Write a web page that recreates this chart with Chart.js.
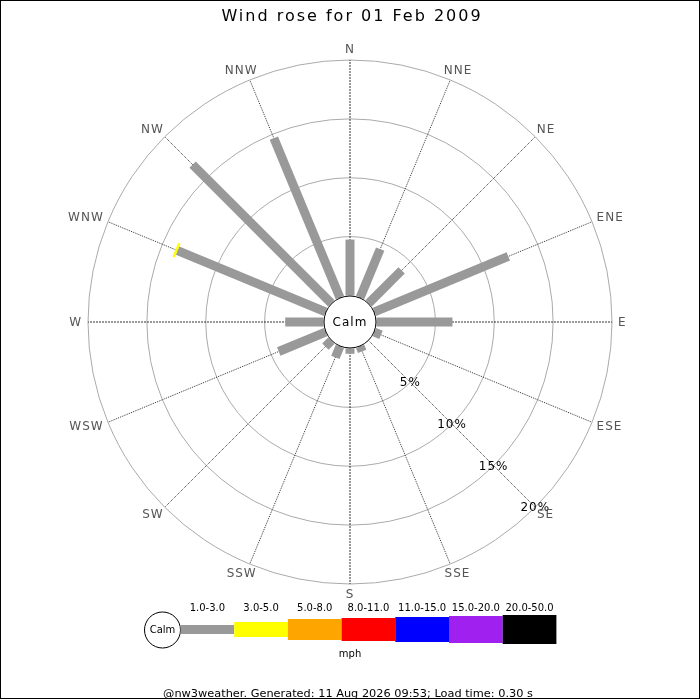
<!DOCTYPE html>
<html>
<head>
<meta charset="utf-8">
<script src="https://cdn.jsdelivr.net/npm/chart.js@4/dist/chart.umd.min.js"></script>
<style>
  body { margin: 0; background: #fff; }
  #wrap { width: 700px; height: 700px; }
</style>
</head>
<body>
<div id="wrap"><canvas id="roseChart"></canvas></div>
<script>
// wind directions, clockwise from north
const directions = ['N', 'NNE', 'NE', 'ENE', 'E', 'ESE', 'SE', 'SSE', 'S', 'SSW', 'SW', 'WSW', 'W', 'WNW', 'NW', 'NNW'];

// percent of the day in each speed band (mph), per direction
const speed1to3 = [4.75, 4.45, 3.95, 12.3, 6.45, 0.6, 0, 0.45, 0.45, 1.0, 0.7, 4.3, 3.25, 13.6, 16.65, 14.65];
const speed3to5 = [0, 0, 0, 0, 0, 0, 0, 0, 0, 0, 0, 0, 0, 0.2, 0, 0];
const speed5to8 = [0, 0, 0, 0, 0, 0, 0, 0, 0, 0, 0, 0, 0, 0, 0, 0];
const speed8to11 = [0, 0, 0, 0, 0, 0, 0, 0, 0, 0, 0, 0, 0, 0, 0, 0];
const speed11to15 = [0, 0, 0, 0, 0, 0, 0, 0, 0, 0, 0, 0, 0, 0, 0, 0];
const speed15to20 = [0, 0, 0, 0, 0, 0, 0, 0, 0, 0, 0, 0, 0, 0, 0, 0];
const speed20to50 = [0, 0, 0, 0, 0, 0, 0, 0, 0, 0, 0, 0, 0, 0, 0, 0];

const speedBands = ['1.0-3.0', '3.0-5.0', '5.0-8.0', '8.0-11.0', '11.0-15.0', '15.0-20.0', '20.0-50.0'];
const bandColors = ['#999999', '#ffff00', '#ffa500', '#ff0000', '#0000ff', '#a020f0', '#000000'];
const bandWidths = [9, 15, 21, 23, 25, 27, 29];

const tickValues = [5, 10, 15, 20];
const tickDirection = 6; // ticks written along SE

const titleText = 'Wind rose for 01 Feb 2009';
const footerText = '@nw3weather. Generated: 11 Aug 2026 09:53; Load time: 0.30 s';

const bandData = [speed1to3, speed3to5, speed5to8, speed8to11, speed11to15, speed15to20, speed20to50];

const roseDraw = {
    id: 'roseDraw',
    afterDatasetsDraw(chart) {
        const ctx = chart.ctx;
        const scale = chart.scales.r;
        ctx.save();
        ctx.lineCap = 'butt';
        directions.forEach((d, i) => {
            let cum = 0;
            chart.data.datasets.forEach((ds, k) => {
                const v = ds.data[i];
                if (!v) return;
                const p0 = scale.getPointPositionForValue(i, cum);
                const p1 = scale.getPointPositionForValue(i, cum + v);
                ctx.strokeStyle = ds.backgroundColor;
                ctx.lineWidth = bandWidths[k];
                ctx.beginPath();
                ctx.moveTo(p0.x, p0.y);
                ctx.lineTo(p1.x, p1.y);
                ctx.stroke();
                cum += v;
            });
        });
        ctx.restore();
    },
    afterDraw(chart) {
        const ctx = chart.ctx;
        const scale = chart.scales.r;
        const cx = scale.xCenter, cy = scale.yCenter;
        ctx.save();
        ctx.font = '12px "DejaVu Sans"';
        ctx.letterSpacing = '1px';
        ctx.textAlign = 'center';
        ctx.textBaseline = 'middle';

        // calm circle
        const calmR = scale.getDistanceFromCenterForValue(0) - 0.5;
        ctx.beginPath();
        ctx.arc(cx, cy, calmR, 0, Math.PI * 2);
        ctx.fillStyle = '#fff';
        ctx.fill();
        ctx.strokeStyle = '#000';
        ctx.lineWidth = 1;
        ctx.stroke();
        ctx.fillStyle = '#000';
        ctx.fillText('Calm', cx, cy + 1);

        // percentage labels
        tickValues.forEach(v => {
            const p = scale.getPointPositionForValue(tickDirection, v);
            ctx.fillText(v + '%', p.x, p.y + 1);
        });

        // compass labels
        ctx.fillStyle = '#555';
        directions.forEach((d, i) => {
            const a = scale.getIndexAngle(i);
            const p = scale.getPointPosition(i, scale.drawingArea + 6);
            const w = ctx.measureText(d).width;
            ctx.fillText(d, p.x + Math.sin(a) * w / 2, p.y - Math.cos(a) * 4.5 + 0.5);
        });

        // title
        ctx.fillStyle = '#000';
        ctx.font = '16px "DejaVu Sans"';
        ctx.letterSpacing = '2px';
        ctx.textBaseline = 'alphabetic';
        ctx.fillText(titleText, 352, 21);

        // speed legend
        ctx.letterSpacing = '0px';
        ctx.font = '10px "DejaVu Sans"';
        ctx.beginPath();
        ctx.arc(162.5, 630, 18, 0, Math.PI * 2);
        ctx.stroke();
        ctx.textBaseline = 'middle';
        ctx.fillText('Calm', 162.5, 630.5);
        const boxW = 53.7;
        speedBands.forEach((lab, k) => {
            const x0 = 180.5 + k * boxW;
            const h = bandWidths[k];
            ctx.fillStyle = bandColors[k];
            ctx.fillRect(x0, 629.5 - h / 2, boxW, h);
            ctx.fillStyle = '#000';
            ctx.textBaseline = 'alphabetic';
            ctx.fillText(lab, x0 + boxW / 2, 611);
        });
        ctx.fillText('mph', 350, 657);

        // footer
        ctx.font = '11.33px "DejaVu Sans"';
        ctx.fillText(footerText, 348, 697);

        // frame
        ctx.strokeStyle = '#000';
        ctx.lineWidth = 1;
        ctx.strokeRect(0.5, 0.5, 699, 698);
        ctx.restore();
    }
};

const datasets = bandData.map((vals, k) => ({
    label: speedBands[k],
    data: vals,
    backgroundColor: bandColors[k],
    borderWidth: 0,
    pointRadius: 0,
    fill: false,
    showLine: false
}));

new Chart(document.getElementById('roseChart'), {
    type: 'radar',
    data: { labels: directions, datasets: datasets },
    options: {
        responsive: true,
        maintainAspectRatio: false,
        animation: false,
        layout: { padding: { left: 88, right: 88, top: 60, bottom: 116 } },
        plugins: {
            legend: { display: false },
            tooltip: { enabled: false },
            title: { display: false }
        },
        scales: {
            r: {
                min: -2.25,
                max: 20,
                ticks: { display: false, stepSize: 5 },
                afterBuildTicks: scale => {
                    scale.ticks = tickValues.map(v => ({ value: v }));
                },
                pointLabels: { display: false },
                grid: { circular: true, color: '#aaa', lineWidth: 1 },
                angleLines: {
                    color: '#333',
                    lineWidth: 1,
                    borderDash: ctx => (ctx.index % 4 === 0 ? [2, 1] : [1, 1])
                }
            }
        }
    },
    plugins: [roseDraw]
});
</script>
</body>
</html>
